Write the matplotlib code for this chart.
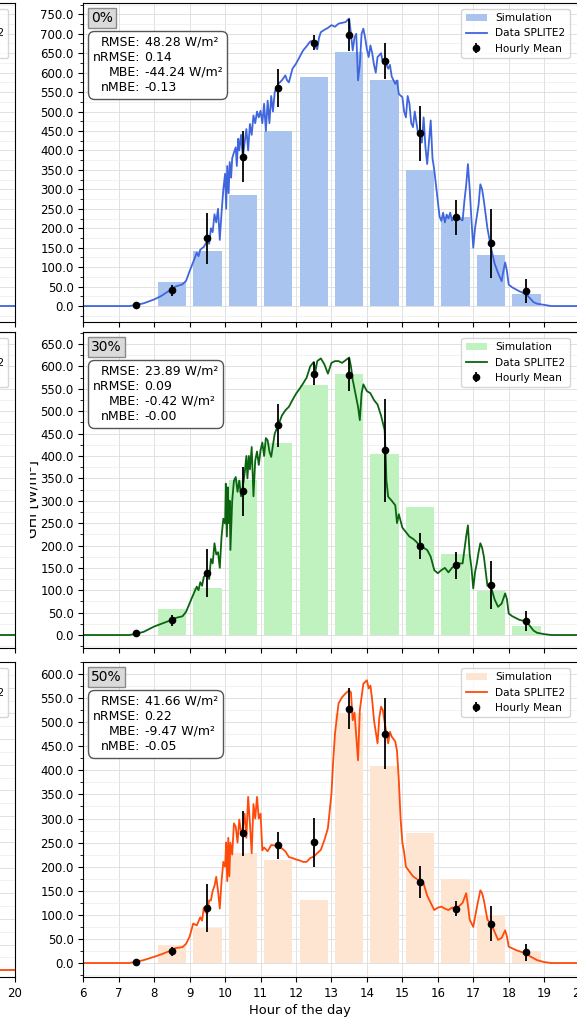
import matplotlib
matplotlib.use("Agg")
import matplotlib.pyplot as plt
from matplotlib.ticker import MultipleLocator, FormatStrFormatter
from matplotlib.offsetbox import TextArea, HPacker, AnchoredOffsetbox, AnchoredText
from matplotlib.patches import Patch
from matplotlib.lines import Line2D
from matplotlib.transforms import Bbox, TransformedBbox

# hourly bins
mean_hours = [7.5, 8.5, 9.5, 10.5, 11.5, 12.5, 13.5, 14.5, 15.5, 16.5, 17.5, 18.5]
sim_hours = [8.5, 9.5, 10.5, 11.5, 12.5, 13.5, 14.5, 15.5, 16.5, 17.5, 18.5]

# ---- 0 % shading ----
sim_0 = [62, 142, 286, 451, 590, 652, 582, 350, 229, 131, 31]
mean_0 = [3, 40, 174, 384, 561, 677, 697, 629, 444, 228, 161, 39]
std_0 = [0, 15, 66, 65, 49, 20, 41, 46, 70, 45, 88, 30]
meas_0_hours = [6.0, 7.3, 7.5, 7.7, 8.0, 8.2, 8.4, 8.5, 8.6, 8.8, 8.9, 9.0, 9.1, 9.2, 9.25,
                9.3, 9.4, 9.5, 9.55, 9.6, 9.65, 9.7, 9.75, 9.8, 9.85, 9.9, 9.95, 10.0, 10.03,
                10.06, 10.1, 10.13, 10.17, 10.2, 10.25, 10.3, 10.33, 10.37, 10.4, 10.45, 10.5,
                10.55, 10.6, 10.65, 10.7, 10.75, 10.8, 10.85, 10.9, 10.95, 11.0, 11.05, 11.1,
                11.15, 11.2, 11.25, 11.3, 11.35, 11.4, 11.5, 11.6, 11.7, 11.75, 11.8, 11.9,
                12.0, 12.1, 12.2, 12.3, 12.4, 12.5, 12.55, 12.6, 12.65, 12.7, 12.8, 12.9,
                13.0, 13.1, 13.2, 13.3, 13.4, 13.45, 13.5, 13.55, 13.6, 13.65, 13.7, 13.75,
                13.8, 13.85, 13.9, 13.95, 14.0, 14.05, 14.1, 14.15, 14.2, 14.25, 14.3, 14.4,
                14.45, 14.5, 14.6, 14.65, 14.7, 14.8, 14.85, 14.9, 15.0, 15.05, 15.1, 15.15,
                15.2, 15.25, 15.3, 15.35, 15.4, 15.45, 15.5, 15.55, 15.6, 15.65, 15.7, 15.75,
                15.8, 15.85, 15.9, 15.95, 16.0, 16.05, 16.1, 16.15, 16.2, 16.25, 16.3, 16.35,
                16.4, 16.5, 16.6, 16.7, 16.75, 16.8, 16.85, 16.9, 16.95, 17.0, 17.05, 17.1,
                17.15, 17.2, 17.25, 17.3, 17.4, 17.5, 17.6, 17.7, 17.8, 17.85, 17.9, 17.95,
                18.0, 18.1, 18.2, 18.3, 18.4, 18.5, 18.6, 18.7, 18.8, 19.0, 19.2, 20.0]
meas_0_ghi = [0, 0, 3, 7, 17, 26, 38, 43, 50, 56, 65, 90, 113, 137, 128,
              145, 152, 168, 160, 200, 190, 236, 215, 250, 170, 240, 300, 340, 250,
              360, 290, 370, 330, 380, 395, 408, 360, 430, 400, 440, 382,
              420, 455, 400, 468, 440, 490, 470, 500, 485, 502, 470, 520,
              450, 528, 470, 540, 500, 550, 571, 580, 593, 580, 575, 610,
              623, 640, 657, 668, 680, 683, 665, 660, 690, 704, 710, 715,
              722, 718, 726, 728, 730, 735, 739, 700, 657, 690, 700, 580,
              620, 700, 713, 690, 660, 640, 670, 650, 620, 600, 640, 650,
              625, 631, 610, 620, 590, 571, 580, 545, 537, 500, 485, 540,
              520, 470, 460, 500, 470, 440, 451, 420, 485, 410, 365, 420,
              477, 380, 350, 310, 270, 230, 219, 240, 215, 235, 225, 240,
              220, 228, 225, 220, 270, 310, 365, 300, 220, 150, 200, 230,
              260, 313, 300, 270, 200, 150, 110, 85, 64, 90, 112, 90,
              55, 48, 43, 38, 34, 30, 20, 10, 6, 3, 0, 0]
stats_0 = ["48.28 W/m²", "0.14", "-44.24 W/m²", "-0.13"]

# ---- 30 % shading ----
sim_30 = [59, 104, 346, 428, 558, 584, 405, 285, 180, 99, 21]
mean_30 = [4, 33, 139, 321, 469, 584, 582, 413, 199, 156, 112, 31]
std_30 = [0, 12, 54, 55, 48, 26, 36, 115, 30, 30, 53, 23]
meas_30_hours = [6.0, 7.3, 7.5, 7.7, 8.0, 8.2, 8.4, 8.5, 8.6, 8.8, 8.9, 9.0, 9.1, 9.2, 9.25,
                 9.3, 9.35, 9.4, 9.5, 9.55, 9.6, 9.65, 9.7, 9.75, 9.8, 9.85, 9.9, 9.95, 10.0,
                 10.02, 10.05, 10.08, 10.1, 10.13, 10.15, 10.2, 10.25, 10.3, 10.35, 10.4,
                 10.45, 10.5, 10.55, 10.6, 10.63, 10.67, 10.7, 10.75, 10.8, 10.85, 10.9,
                 10.95, 11.0, 11.05, 11.1, 11.15, 11.2, 11.25, 11.3, 11.4, 11.5, 11.6, 11.7,
                 11.8, 11.9, 12.0, 12.1, 12.2, 12.3, 12.4, 12.5, 12.55, 12.6, 12.7, 12.8,
                 12.9, 13.0, 13.1, 13.2, 13.3, 13.4, 13.5, 13.55, 13.6, 13.7, 13.75, 13.8,
                 13.85, 13.9, 14.0, 14.1, 14.2, 14.3, 14.4, 14.5, 14.53, 14.55, 14.6, 14.7,
                 14.8, 14.85, 14.9, 15.0, 15.1, 15.2, 15.3, 15.4, 15.5, 15.6, 15.7, 15.8,
                 15.9, 16.0, 16.1, 16.2, 16.3, 16.4, 16.5, 16.6, 16.7, 16.75, 16.8, 16.85,
                 16.9, 16.95, 17.0, 17.05, 17.1, 17.15, 17.2, 17.25, 17.3, 17.4, 17.5, 17.6,
                 17.7, 17.8, 17.9, 17.95, 18.0, 18.1, 18.2, 18.3, 18.4, 18.5, 18.6, 18.7,
                 18.8, 19.0, 19.2, 20.0]
meas_30_ghi = [0, 0, 3, 7, 19, 25, 31, 33, 38, 42, 52, 71, 90, 108, 100,
               118, 110, 130, 138, 125, 170, 160, 205, 180, 185, 150, 220, 260, 249,
               338, 220, 330, 250, 300, 190, 300, 345, 353, 320, 345,
               310, 331, 360, 400, 350, 400, 370, 420, 310, 390, 410,
               380, 413, 430, 400, 440, 435, 410, 398, 450, 469, 490, 502,
               510, 525, 539, 550, 562, 575, 600, 610, 590, 612, 618, 605,
               584, 608, 612, 612, 608, 614, 620, 600, 570, 530, 510, 480,
               540, 560, 545, 540, 525, 515, 490, 458, 400, 346, 309, 300,
               290, 250, 270, 240, 230, 220, 215, 208, 197, 195, 190, 175,
               145, 138, 145, 150, 140, 150, 156, 160, 160, 190, 220, 245,
               180, 150, 104, 140, 160, 185, 205, 195, 175, 110, 108, 80,
               63, 70, 93, 80, 48, 42, 38, 34, 32, 30, 20, 10,
               5, 2, 0, 0]
stats_30 = ["23.89 W/m²", "0.09", "-0.42 W/m²", "-0.00"]

# ---- 50 % shading ----
sim_50 = [37, 72, 228, 214, 131, 520, 409, 271, 174, 100, 24]
mean_50 = [3, 24, 115, 269, 245, 251, 528, 476, 169, 113, 82, 22]
std_50 = [0, 9, 50, 47, 28, 51, 42, 74, 33, 15, 37, 17]
meas_50_hours = [6.0, 7.3, 7.5, 7.7, 8.0, 8.2, 8.4, 8.5, 8.6, 8.8, 8.9, 9.0, 9.1, 9.2, 9.3,
                 9.35, 9.4, 9.45, 9.5, 9.55, 9.6, 9.65, 9.7, 9.75, 9.8, 9.85, 9.9, 9.95,
                 10.0, 10.03, 10.06, 10.09, 10.12, 10.15, 10.2, 10.25, 10.3, 10.35, 10.4,
                 10.45, 10.5, 10.55, 10.6, 10.65, 10.7, 10.75, 10.8, 10.85, 10.9, 10.95,
                 11.0, 11.05, 11.1, 11.2, 11.3, 11.4, 11.5, 11.6, 11.7, 11.8, 11.9, 12.0,
                 12.1, 12.2, 12.3, 12.4, 12.5, 12.6, 12.7, 12.8, 12.9, 13.0, 13.05, 13.1,
                 13.2, 13.3, 13.4, 13.5, 13.55, 13.6, 13.65, 13.7, 13.75, 13.8, 13.9, 14.0,
                 14.05, 14.1, 14.15, 14.2, 14.25, 14.3, 14.35, 14.4, 14.45, 14.5, 14.6,
                 14.65, 14.7, 14.8, 14.85, 14.9, 14.95, 15.0, 15.05, 15.1, 15.2, 15.3, 15.4,
                 15.5, 15.6, 15.7, 15.8, 15.9, 16.0, 16.1, 16.2, 16.3, 16.4, 16.5, 16.6,
                 16.7, 16.8, 16.85, 16.9, 17.0, 17.1, 17.2, 17.25, 17.3, 17.4, 17.5, 17.6,
                 17.7, 17.8, 17.9, 17.95, 18.0, 18.2, 18.4, 18.5, 18.6, 18.8, 19.0, 19.2,
                 20.0]
meas_50_ghi = [0, 0, 3, 6, 13, 18, 24, 27, 31, 33, 40, 55, 82, 78, 95,
               88, 115, 105, 103, 130, 130, 150, 160, 179, 150, 113, 170, 210,
               200, 250, 170, 260, 180, 250, 225, 290, 283, 250, 298,
               270, 280, 310, 260, 345, 290, 228, 330, 300, 345, 300,
               310, 234, 240, 232, 245, 244, 241, 238, 232, 220, 218, 215,
               213, 210, 210, 218, 221, 228, 235, 255, 280, 352, 420, 477,
               539, 552, 560, 566, 562, 504, 520, 470, 421, 525, 580, 587,
               570, 576, 545, 504, 480, 456, 510, 532, 525, 500, 456,
               480, 470, 460, 440, 380, 300, 250, 230, 200, 190, 180, 175,
               169, 165, 140, 125, 110, 115, 117, 113, 110, 115, 113, 118,
               125, 145, 120, 90, 75, 115, 151, 145, 130, 90, 82, 65,
               48, 52, 68, 55, 34, 27, 22, 21, 14, 6, 2, 0,
               0]
stats_50 = ["41.66 W/m²", "0.22", "-9.47 W/m²", "-0.05"]

# evening tails of the neighbouring column
left_tail_hours = [18.5, 20.0]
left_tail_ghi = [0.0, 0.0]

stat_names = "RMSE:\nnRMSE:\nMBE:\nnMBE:"
legend_labels = ["Simulation", "Data SPLITE2", "Hourly Mean"]

panels = [
    dict(tag="0%", sim=sim_0, mean=mean_0, std=std_0, hours=meas_0_hours, ghi=meas_0_ghi,
         stats=stats_0, line="#3f66dd", bar="#aac4f0", ylim=(-41, 779), rect=(3, 322)),
    dict(tag="30%", sim=sim_30, mean=mean_30, std=std_30, hours=meas_30_hours, ghi=meas_30_ghi,
         stats=stats_30, line="#0b6410", bar="#c0f2c0", ylim=(-29, 677), rect=(332, 648)),
    dict(tag="50%", sim=sim_50, mean=mean_50, std=std_50, hours=meas_50_hours, ghi=meas_50_ghi,
         stats=stats_50, line="#ff4a0a", bar="#fde5d2", ylim=(-29, 625), rect=(662, 977)),
]

W, H = 577, 1019
fig = plt.figure(figsize=(W / 100, H / 100), dpi=100)

x0, x1 = 83.3, 579.6
ax_w = (x1 - x0) / W


def style_grid(ax):
    ax.set_axisbelow(True)
    ax.xaxis.set_major_locator(MultipleLocator(1))
    ax.yaxis.set_major_locator(MultipleLocator(50))
    ax.yaxis.set_minor_locator(MultipleLocator(25))
    ax.yaxis.set_major_formatter(FormatStrFormatter("%.1f"))
    ax.grid(which="major", color="#dcdcdc", lw=0.6)
    ax.grid(which="minor", axis="y", color="#ececec", lw=0.5)
    ax.tick_params(labelsize=8.5)


for i, p in enumerate(panels):
    top, bot = p["rect"]
    bottom = (H - bot) / H
    height = (bot - top) / H

    # neighbouring column, mostly outside the canvas
    axl = fig.add_axes([(15 - (x1 - x0)) / W, bottom, ax_w, height])
    style_grid(axl)
    axl.plot(left_tail_hours, left_tail_ghi, color=p["line"], lw=1.3)
    axl.set_xlim(6, 20)
    axl.set_ylim(p["ylim"] if i < 2 else (-13, 600))
    axl.tick_params(labelleft=False)
    proxies = [Patch(color=p["bar"]), Line2D([], [], color=p["line"], lw=1.3),
               Line2D([], [], color="k", marker="o", ms=4, ls="none")]
    axl.legend(proxies, legend_labels, loc="upper right", fontsize=7.6,
               bbox_to_anchor=(1 - 7 / (x1 - x0), 1 - 6 / (bot - top)), borderaxespad=0)
    if i < 2:
        axl.tick_params(labelbottom=False)

    ax = fig.add_axes([x0 / W, bottom, ax_w, height])
    style_grid(ax)
    bars = ax.bar(sim_hours, p["sim"], width=0.8, color=p["bar"], zorder=1)
    line, = ax.plot(p["hours"], p["ghi"], color=p["line"], lw=1.3, zorder=2)
    eb = ax.errorbar(mean_hours, p["mean"], yerr=p["std"], fmt="o", color="k", ms=4.5,
                     elinewidth=1.3, capsize=0, zorder=3)
    ax.set_xlim(6, 20)
    ax.set_ylim(*p["ylim"])
    ax.legend([bars, line, eb], legend_labels, loc="upper right", fontsize=7.6,
              bbox_to_anchor=(1 - 10 / (x1 - x0), 1 - 6 / (bot - top)), borderaxespad=0)

    tag = AnchoredText(p["tag"], loc="upper left", prop=dict(size=10), pad=0.22,
                       borderpad=0.36, frameon=True)
    tag.patch.set_facecolor("#dadada")
    tag.patch.set_edgecolor("#8a8a8a")
    ax.add_artist(tag)

    names = TextArea(stat_names, textprops=dict(size=9, multialignment="right"))
    values = TextArea("\n".join(p["stats"]), textprops=dict(size=9, multialignment="left"))
    packed = HPacker(children=[names, values], align="top", pad=0, sep=3)
    box = AnchoredOffsetbox(loc="upper left", child=packed, pad=0.35, borderpad=0,
                            frameon=True, bbox_to_anchor=(0.0095, 1 - 28 / (bot - top)),
                            bbox_transform=ax.transAxes)
    box.patch.set_boxstyle("round,pad=0,rounding_size=0.45")
    box.patch.set_edgecolor("#555555")
    ax.add_artist(box)

    if i < 2:
        ax.tick_params(labelbottom=False)
    else:
        ax.set_xlabel("Hour of the day", fontsize=9.4)
        ax.xaxis.set_label_coords((300 - x0) / (x1 - x0), -0.085)

    if i == 1:
        ax.set_ylabel("GHI [W/m²]", fontsize=10)
        ax.yaxis.set_label_coords((40 - x0) / (x1 - x0), 0.47)
        lbl = ax.yaxis.label
        lbl.set_clip_box(TransformedBbox(Bbox([[30 / W, 0], [1, 1]]), fig.transFigure))
        lbl.set_clip_on(True)

fig.savefig("out.png", dpi=100)
